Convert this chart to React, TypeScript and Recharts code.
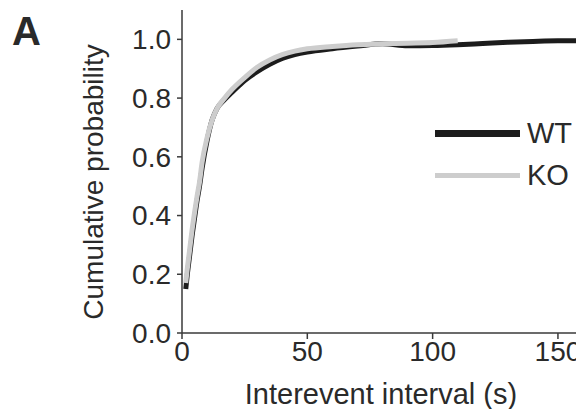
import { LineChart, Line, XAxis, YAxis, Legend, Label } from "recharts";

// interevent interval (s)
const intervals = [
  1.5, 2, 3, 4, 5, 6, 7, 8, 10, 12, 14, 17, 20, 25, 30, 35, 40, 45, 50, 60,
  70, 80, 90, 100, 110, 120, 130, 140, 150, 160,
];
// cumulative probability
const wt = [
  0.15, 0.19, 0.26, 0.33, 0.39, 0.45, 0.5, 0.56, 0.655, 0.725, 0.765, 0.795,
  0.82, 0.86, 0.89, 0.915, 0.935, 0.948, 0.957, 0.968, 0.977, 0.985, 0.978,
  0.979, 0.982, 0.986, 0.99, 0.993, 0.995, 0.995,
];
const ko = [
  0.17, 0.21, 0.28, 0.35, 0.41, 0.465, 0.515, 0.58, 0.665, 0.725, 0.765, 0.8,
  0.83, 0.87, 0.905, 0.93, 0.948, 0.96, 0.968, 0.976, 0.982, 0.985, 0.987,
  0.989, 0.995, null, null, null, null, null,
];
const series = ["WT", "KO"];
const xTicks = [0, 50, 100, 150];
const yTicks = [0, 0.2, 0.4, 0.6, 0.8, 1.0];

const data = intervals.map((t, i) => ({ t, WT: wt[i], KO: ko[i] }));

const FONT = "'Liberation Sans', Arial, sans-serif";
const INK = "#2a2a2a";
const AXIS = "#3a3a3a";

function renderLegend(props: any) {
  const items = [...(props.payload ?? [])].sort(
    (a: any, b: any) => series.indexOf(a.value) - series.indexOf(b.value)
  );
  return (
    <div style={{ fontFamily: FONT }}>
      {items.map((it: any) => (
        <div
          key={it.value}
          style={{ display: "flex", alignItems: "center", height: 42 }}
        >
          <span
            style={{
              display: "inline-block",
              width: 85,
              height: it.value === "WT" ? 7 : 5,
              background: it.color,
            }}
          />
          <span style={{ marginLeft: 7, fontSize: 29, color: INK }}>
            {it.value}
          </span>
        </div>
      ))}
    </div>
  );
}

export default function App() {
  return (
    <div style={{ position: "relative", width: 584, height: 417, margin: -8, background: "#fff" }}>
      <div
        style={{
          position: "absolute",
          left: 12,
          top: 11,
          fontFamily: FONT,
          fontWeight: 700,
          fontSize: 40,
          lineHeight: 1,
          color: INK,
        }}
      >
        A
      </div>
      <LineChart
        width={584}
        height={417}
        data={data}
        margin={{ top: 10, right: 1, bottom: 0, left: 0 }}
      >
        <XAxis
          dataKey="t"
          type="number"
          domain={[0, 160]}
          ticks={xTicks}
          height={84}
          stroke={AXIS}
          strokeWidth={1.5}
          tickSize={6}
          tick={{ fill: INK, fontSize: 28, fontFamily: FONT }}
        >
          <Label
            content={() => (
              <text
                x={381}
                y={404}
                textAnchor="middle"
                fontSize={29}
                fontFamily={FONT}
                fill={INK}
              >
                Interevent interval (s)
              </text>
            )}
          />
        </XAxis>
        <YAxis
          type="number"
          domain={[0, 1.1]}
          ticks={yTicks}
          width={182}
          stroke={AXIS}
          strokeWidth={1.5}
          tickSize={5}
          tickMargin={6}
          tickFormatter={(v: number) => v.toFixed(1)}
          tick={{ fill: INK, fontSize: 28, fontFamily: FONT }}
        >
          <Label
            content={() => (
              <text
                x={93}
                y={182}
                transform="rotate(-90 93 182)"
                textAnchor="middle"
                dominantBaseline="central"
                fontSize={28}
                fontFamily={FONT}
                fill={INK}
              >
                Cumulative probability
              </text>
            )}
          />
        </YAxis>
        <Legend
          layout="vertical"
          verticalAlign="middle"
          align="center"
          wrapperStyle={{ left: 435, top: 112, width: "auto" }}
          content={renderLegend}
        />
        <Line
          dataKey="WT"
          type="monotone"
          stroke="#1c1c1c"
          strokeWidth={5}
          dot={false}
          isAnimationActive={false}
        />
        <Line
          dataKey="KO"
          type="monotone"
          stroke="#cdcdcd"
          strokeWidth={5}
          dot={false}
          connectNulls={false}
          isAnimationActive={false}
        />
      </LineChart>
    </div>
  );
}
